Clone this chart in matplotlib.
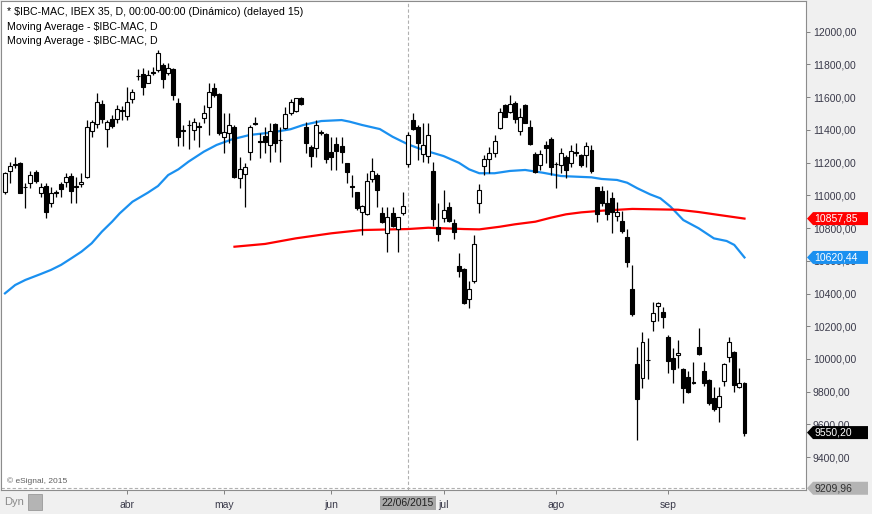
import matplotlib

matplotlib.use("Agg")
import matplotlib.pyplot as plt
import matplotlib.transforms as mtransforms
from matplotlib.patches import Polygon, Rectangle

plt.rcParams["font.family"] = ["Liberation Sans", "DejaVu Sans"]

# daily OHLC for $IBC-MAC, one entry per session
opens = [
    11022, 11148, 11188, 11196, 11052, 11077, 11141, 11013, 11057, 10952,
    11018, 11069, 11083, 11118, 11055, 11068, 11110, 11395, 11436, 11558,
    11404, 11465, 11467, 11519, 11485, 11587, 11731, 11742, 11688, 11751,
    11766, 11797, 11746, 11770, 11566, 11397, 11432, 11399, 11422, 11471,
    11538, 11654, 11619, 11355, 11379, 11420, 11104, 11130, 11263, 11442,
    11330, 11362, 11307, 11436, 11341, 11410, 11506, 11517, 11593, 11420,
    11293, 11287, 11385, 11375, 11267, 11312, 11302, 11196, 11055, 11018,
    10897, 10886, 11098, 11124, 10890, 10768, 10894, 10793, 10890, 11190,
    11460, 11420, 11252, 11240, 11149, 10809, 10860, 10927, 10829, 10568,
    10548, 10365, 10479, 10956, 11181, 11220, 11260, 11410, 11552, 11511,
    11566, 11392, 11552, 11416, 11252, 11185, 11307, 11343, 11193, 11185,
    11236, 11196, 11262, 11246, 11246, 11277, 11049, 11027, 10952, 10982,
    10876, 10843, 10744, 10426, 9968, 9882, 9996, 10232, 10324, 10289,
    10133, 10004, 10023, 9937, 9888, 9857, 10072, 9927, 9872, 9760,
    9705, 9868, 10014, 10045, 9827, 9851,
]
highs = [
    11140, 11206, 11236, 11206, 11074, 11151, 11155, 11074, 11074, 11053,
    11033, 11083, 11138, 11138, 11114, 11138, 11460, 11460, 11624, 11582,
    11460, 11491, 11552, 11546, 11664, 11648, 11770, 11776, 11766, 11782,
    11888, 11807, 11811, 11776, 11593, 11430, 11460, 11471, 11450, 11552,
    11685, 11685, 11625, 11501, 11501, 11430, 11236, 11196, 11430, 11481,
    11383, 11420, 11440, 11440, 11420, 11542, 11587, 11597, 11603, 11450,
    11307, 11460, 11399, 11379, 11358, 11358, 11358, 11198, 11124, 11022,
    10941, 11135, 11226, 11135, 10931, 10931, 10931, 10870, 11022, 11389,
    11501, 11430, 11440, 11440, 11206, 10952, 11033, 10962, 10854, 10650,
    10554, 10479, 10758, 11069, 11247, 11297, 11368, 11532, 11558, 11613,
    11577, 11532, 11556, 11460, 11267, 11277, 11330, 11355, 11206, 11287,
    11247, 11307, 11318, 11250, 11328, 11307, 11053, 11058, 11033, 11022,
    10960, 10906, 10793, 10575, 10075, 10167, 10127, 10351, 10351, 10316,
    10147, 10065, 10116, 9943, 9929, 9984, 10188, 9984, 9876, 9831,
    9831, 9974, 10137, 10051, 9943, 9861,
]
lows = [
    11010, 11074, 11167, 11014, 10921, 11043, 11074, 10992, 10860, 10931,
    10992, 10992, 11053, 10952, 10953, 11053, 11104, 11356, 11410, 11440,
    11297, 11410, 11440, 11460, 11460, 11563, 11705, 11613, 11684, 11735,
    11756, 11654, 11735, 11583, 11302, 11302, 11281, 11339, 11294, 11444,
    11368, 11601, 11368, 11260, 11318, 11106, 11047, 10931, 11216, 11430,
    11226, 11257, 11206, 11267, 11206, 11404, 11491, 11511, 11552, 11260,
    11171, 11236, 11368, 11196, 11155, 11155, 11196, 11074, 10992, 10910,
    10758, 10879, 11083, 10931, 10829, 10656, 10809, 10656, 10879, 11175,
    11399, 11216, 11206, 11200, 10813, 10723, 10839, 10839, 10731, 10499,
    10336, 10309, 10462, 10894, 11124, 11138, 11232, 11404, 11477, 11501,
    11440, 11368, 11440, 11307, 11138, 11155, 11200, 11124, 11043, 11138,
    11104, 11175, 11240, 11175, 11175, 11135, 10839, 10935, 10850, 10772,
    10846, 10772, 10564, 10265, 9505, 9821, 9876, 10173, 10234, 10188,
    9917, 9853, 9943, 9734, 9794, 9847, 10024, 9835, 9719, 9684,
    9617, 9835, 9984, 9800, 9821, 9530,
]
closes = [
    11135, 11179, 11192, 11016, 11048, 11124, 11090, 11049, 10900, 11016,
    11015, 11037, 11110, 11028, 11051, 11083, 11416, 11450, 11572, 11467,
    11450, 11424, 11526, 11515, 11570, 11630, 11727, 11664, 11735, 11747,
    11868, 11709, 11776, 11613, 11358, 11393, 11428, 11450, 11418, 11501,
    11633, 11613, 11383, 11385, 11430, 11114, 11159, 11175, 11420, 11438,
    11326, 11328, 11395, 11318, 11337, 11497, 11572, 11593, 11556, 11322,
    11242, 11430, 11381, 11220, 11236, 11273, 11267, 11145, 11051, 10921,
    10935, 11090, 11151, 11033, 10839, 10866, 10813, 10866, 10937, 11369,
    11404, 11322, 11307, 11369, 10854, 10764, 10911, 10845, 10778, 10540,
    10344, 10426, 10703, 11033, 11220, 11257, 11332, 11508, 11481, 11558,
    11465, 11481, 11444, 11312, 11145, 11252, 11287, 11171, 11189, 11260,
    11155, 11273, 11258, 11185, 11303, 11151, 10886, 10952, 10886, 10900,
    10897, 10784, 10591, 10273, 9754, 10106, 9992, 10283, 10344, 10259,
    9990, 9937, 10035, 9821, 9800, 9853, 10031, 9855, 9729, 9693,
    9774, 9970, 10104, 9841, 9851, 9550.20,
]

# moving averages, sampled at session indices
blue_idx = [0, 2, 4, 7, 9, 11, 13, 15, 17, 19, 21, 22.5, 25, 28, 30, 32, 34,
            36, 39, 41.5, 44.5, 48, 52, 56, 58.5, 62, 66, 67.6, 70, 73.5, 76,
            79, 82, 86, 89, 91, 93, 96, 99, 102, 105.5, 109, 112, 115, 117,
            120, 122, 124, 126.5, 128.5, 130.5, 133, 136, 139, 141.5, 143, 145]
blue_ma = [10401, 10452, 10483, 10519, 10544, 10575, 10615, 10656, 10707,
           10778, 10839, 10890, 10961, 11016, 11057, 11124, 11159, 11206,
           11267, 11308, 11342, 11369, 11383, 11404, 11430, 11454, 11460,
           11450, 11430, 11405, 11358, 11312, 11277, 11240, 11199, 11159,
           11135, 11135, 11149, 11155, 11138, 11118, 11114, 11110, 11100,
           11094, 11077, 11043, 11006, 10982, 10931, 10849, 10799, 10737,
           10721, 10697, 10620.44]
red_idx = [45, 51, 57, 64, 70, 79, 83, 90, 93, 97, 100, 104, 107, 110, 113,
           117, 123, 132, 136, 140, 145]
red_ma = [10686, 10703, 10737, 10768, 10788, 10794, 10802, 10794, 10792,
          10808, 10823, 10839, 10863, 10884, 10896, 10906, 10917, 10912,
          10898, 10880, 10857.85]

month_idx = [24, 43, 64, 86, 108, 130]
month_labels = ["abr", "may", "jun", "jul", "ago", "sep"]
y_ticks = list(range(9400, 12001, 200))

cross_idx = 79
cross_val = 9209.96
cross_date = "22/06/2015"

W, H = 872, 514
BG = "#f0f0f0"
AXIS_TXT = "#3a3a4a"
BLUE = "#1a90f0"
RED = "#ff0000"

fig = plt.figure(figsize=(W / 100, H / 100), dpi=100, facecolor=BG)
ax = fig.add_axes([1 / W, 24 / H, 805 / W, 489 / H])
ax.set_facecolor("white")

y_lo, y_hi = 9199.3, 12187.6
ax.set_xlim(-0.78, 157.06)
ax.set_ylim(y_lo, y_hi)
per_px = (y_hi - y_lo) / 489

# candles
x = list(range(len(closes)))
ax.vlines(x, lows, highs, color="black", lw=0.9, zorder=3)
bottoms = [min(o, c) for o, c in zip(opens, closes)]
heights = [abs(c - o) for o, c in zip(opens, closes)]
faces = ["white" if c >= o else "black" for o, c in zip(opens, closes)]
ax.bar(x, heights, bottom=bottoms, width=0.78, color=faces,
       edgecolor="black", linewidth=0.8, zorder=4)

ax.plot(blue_idx, blue_ma, color=BLUE, lw=1.6, zorder=2)
ax.plot(red_idx, red_ma, color=RED, lw=1.6, zorder=2)

# crosshair
ax.axvline(cross_idx, color="#b0b0b0", lw=0.8, ls=(0, (3, 2)), zorder=1)
ax.axhline(cross_val, color="#b0b0b0", lw=0.8, ls=(0, (3, 2)), zorder=1)

# axes and ticks
for s in ax.spines.values():
    s.set_color("#8c8c8c")
    s.set_linewidth(0.8)
ax.yaxis.tick_right()
ax.set_yticks(y_ticks)
ax.set_yticklabels([f"{v},00" for v in y_ticks])
ax.tick_params(axis="y", length=3, width=0.7, pad=2, labelsize=7.5,
               color="#808080", labelcolor=AXIS_TXT)
ax.set_xticks(month_idx)
ax.set_xticklabels(month_labels)
ax.tick_params(axis="x", length=3, width=0.7, pad=4, labelsize=7.5,
               color="#808080", labelcolor=AXIS_TXT)

# price tags on the right scale
tr = mtransforms.blended_transform_factory(ax.transAxes, ax.transData)
px = 1 / 805


def price_tag(val, text, bg, fg):
    hh = 6.5 * per_px
    pts = [(1 + 1 * px, val), (1 + 7 * px, val + hh), (1 + 62 * px, val + hh),
           (1 + 62 * px, val - hh), (1 + 7 * px, val - hh)]
    ax.add_patch(Polygon(pts, closed=True, transform=tr, facecolor=bg,
                         edgecolor="none", clip_on=False, zorder=5))
    ax.text(1 + 8 * px, val, text, transform=tr, fontsize=7.5, color=fg,
            va="center", ha="left", clip_on=False, zorder=6)


price_tag(red_ma[-1], f"{red_ma[-1]:.2f}".replace(".", ","), RED, "white")
price_tag(blue_ma[-1], f"{blue_ma[-1]:.2f}".replace(".", ","), BLUE, "white")
price_tag(closes[-1], f"{closes[-1]:.2f}".replace(".", ","), "black", "white")
price_tag(cross_val, f"{cross_val:.2f}".replace(".", ","), "#b4b4b4", "#303030")

# date tag on the time scale
trx = mtransforms.blended_transform_factory(ax.transData, ax.transAxes)
ax.text(cross_idx, -13 / 489, cross_date, transform=trx, fontsize=7.5,
        color="#202020", ha="center", va="center", clip_on=False, zorder=6,
        bbox=dict(boxstyle="square,pad=0.15", facecolor="#a8a8a8",
                  edgecolor="none"))

# header lines
header = [
    "* \\$IBC-MAC, IBEX 35, D, 00:00-00:00 (Dinámico) (delayed 15)",
    "Moving Average - \\$IBC-MAC, D",
    "Moving Average - \\$IBC-MAC, D",
]
for k, line in enumerate(header):
    fig.text(7 / W, 1 - (12 + 14.5 * k) / H, line, fontsize=7.7,
             color="black", va="center", ha="left")

fig.text(7 / W, 1 - 481 / H, "© eSignal, 2015", fontsize=6, color="#606060",
         va="center", ha="left")

# "Dyn" and lock button in the bottom-left corner
fig.text(4 / W, 1 - 502 / H, "Dyn", fontsize=8, color="#8a8a8a",
         va="center", ha="left")
fig.patches.append(Rectangle((28 / W, 1 - 510 / H), 14 / W, 16 / H,
                             transform=fig.transFigure, facecolor="#b4b4b4",
                             edgecolor="#9a9a9a", lw=0.6))

fig.savefig("out.png", dpi=100, facecolor=BG)
